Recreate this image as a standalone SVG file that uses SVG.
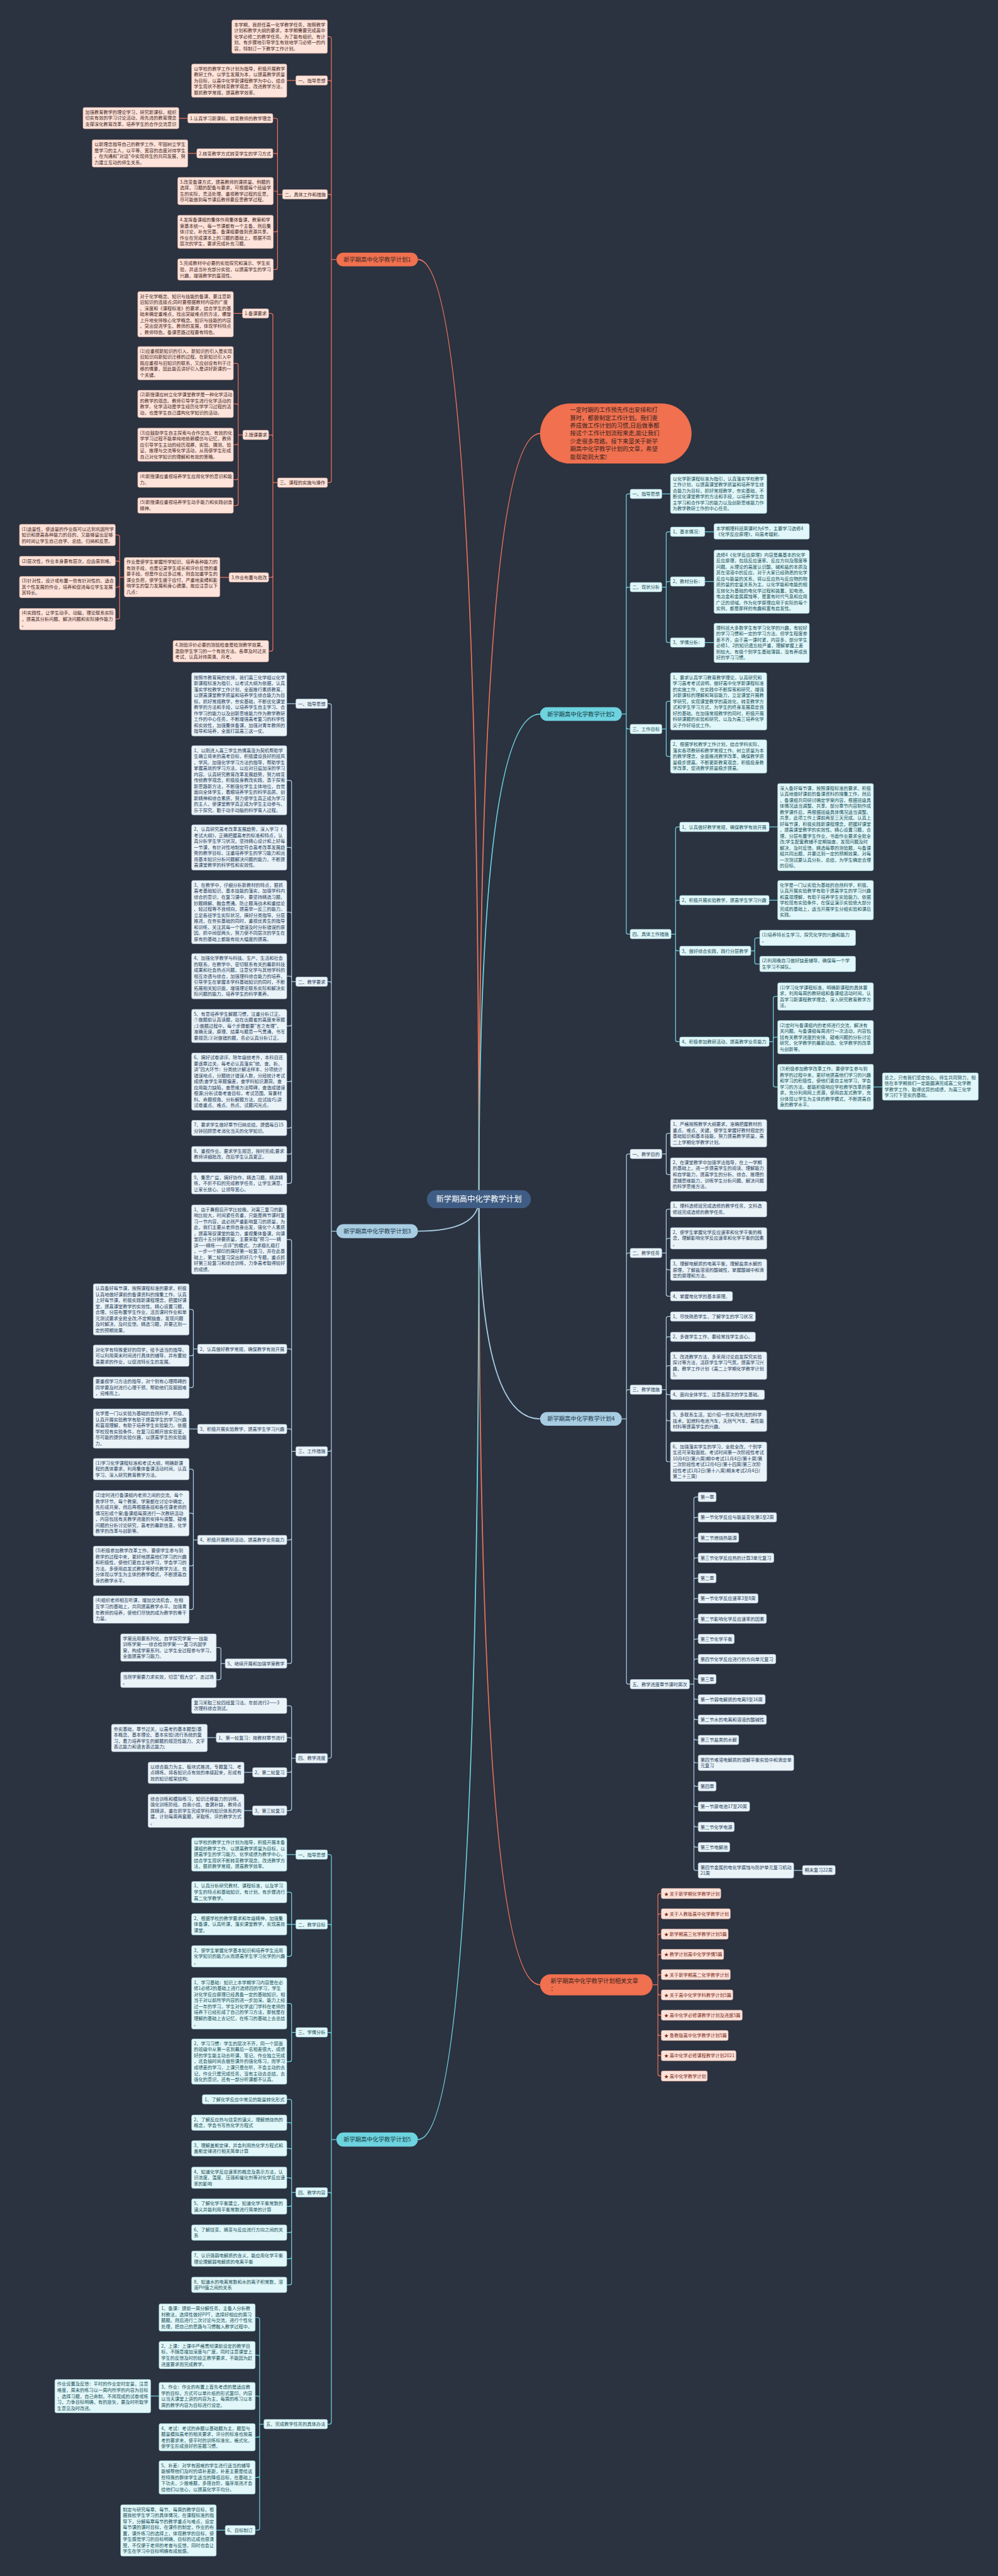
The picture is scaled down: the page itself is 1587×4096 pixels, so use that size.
<svg xmlns="http://www.w3.org/2000/svg" width="1587" height="4096" viewBox="0 0 1587 4096">
<style>
.t{font-family:"Noto Sans CJK SC","Noto Sans",sans-serif;font-size:11.7px}
.tc{fill:#45271d}.tb{fill:#27405a}.ty{fill:#17505a}.tr{fill:#7a2a18}
.rc{fill:#fde3da;stroke:#e9b4a3;stroke-width:1}
.rb{fill:#eaf3f8;stroke:#bcd5e6;stroke-width:1}
.ry{fill:#e2f7f9;stroke:#a9e1e8;stroke-width:1}
.lc{fill:none;stroke:#e9735a;stroke-width:2;stroke-linejoin:round}
.lb{fill:none;stroke:#a8cde2;stroke-width:2;stroke-linejoin:round}
.ly{fill:none;stroke:#6dd3df;stroke-width:2;stroke-linejoin:round}
.mc{fill:none;stroke:#e9735a;stroke-width:3}
.mb{fill:none;stroke:#a8cde2;stroke-width:3}
.my{fill:none;stroke:#6dd3df;stroke-width:3}
.bn{font-family:"Noto Sans CJK SC","Noto Sans",sans-serif;font-size:15px}
</style>
<rect width="1587" height="4096" fill="#2b3240"/>
<g transform="scale(0.6199)">
<g id="connectors">
<path class="mc" d="M1228.5,3076 Q1228.5,665.5 1072,665.5"/>
<path class="mc" d="M1228.5,3076 Q1228.5,1112 1385.4,1112"/>
<path class="mc" d="M1228.5,3076 Q1228.5,5091 1385.4,5091"/>
<path class="my" d="M1228.5,3076 Q1228.5,1831.5 1385.4,1831.5"/>
<path class="my" d="M1228.5,3076 Q1228.5,5488 1072,5488"/>
<path class="mb" d="M1228.5,3076 Q1228.5,3158 1072,3158"/>
<path class="mb" d="M1228.5,3076 Q1228.5,3639.5 1385.4,3639.5"/>
<path class="lc" d="M863,665.5 H850 V99.1 Q850,94.1 845,94.1 H840 M863,665.5 H850 V211.3 Q850,206.3 845,206.3 H840 M863,665.5 H850 V503.5 Q850,498.5 845,498.5 H840 M863,665.5 H850 V1233 Q850,1238 845,1238 H840 M759,206.3 H735.6
M724.7,498.5 H712 V308.4 Q712,303.4 707,303.4 H700 M724.7,498.5 H712 V398.4 Q712,393.4 707,393.4 H700 M724.7,498.5 H712 V495 Q712,490 707,490 H700 M724.7,498.5 H712 V589.7 Q712,594.7 707,594.7 H700 M724.7,498.5 H712 V686.35 Q712,691.35 707,691.35 H700 M481.7,303.4 H458.7 M504.8,393.4 H481.7
M712,1238 H700 V809 Q700,804 695,804 H689 M712,1238 H700 V1120.6 Q700,1115.6 695,1115.6 H689 M712,1238 H700 V1476 Q700,1481 695,1481 H689 M712,1238 H700 V1665.35 Q700,1670.35 695,1670.35 H689 M622,804 H598.6
M623,1115.6 H611 V936.7 Q611,931.7 606,931.7 H598.6 M623,1115.6 H611 V1041 Q611,1036 606,1036 H598.6 M623,1115.6 H611 V1135.7 Q611,1140.7 606,1140.7 H598.6 M623,1115.6 H611 V1225.4 Q611,1230.4 606,1230.4 H598.6 M623,1115.6 H611 V1291.7 Q611,1296.7 606,1296.7 H598.6
M587.7,1481 H564 M318.9,1480.5 H306.8 V1377.35 Q306.8,1372.35 301.8,1372.35 H295.8 M318.9,1480.5 H306.8 V1444 Q306.8,1439 301.8,1439 H295.8 M318.9,1480.5 H306.8 V1501 Q306.8,1506 301.8,1506 H295.8 M318.9,1480.5 H306.8 V1583 Q306.8,1588 301.8,1588 H295.8"/>
<path class="lb" d="M863,3158 H850 V1810 Q850,1805 845,1805 H840 M863,3158 H850 V2523 Q850,2518 845,2518 H840 M863,3158 H850 V3717.7 Q850,3722.7 845,3722.7 H840 M863,3158 H850 V4505 Q850,4510 845,4510 H840 M759,1805 H735.6
M759,2518 H748 V2006.6 Q748,2001.6 743,2001.6 H735.6 M759,2518 H748 V2178.7 Q748,2173.7 743,2173.7 H735.6 M759,2518 H748 V2344.6 Q748,2339.6 743,2339.6 H735.6 M759,2518 H748 V2509 Q748,2504 743,2504 H735.6 M759,2518 H748 V2626.7 Q748,2631.7 743,2631.7 H735.6 M759,2518 H748 V2769.4 Q748,2774.4 743,2774.4 H735.6 M759,2518 H748 V2888.3 Q748,2893.3 743,2893.3 H735.6 M759,2518 H748 V2955.4 Q748,2960.4 743,2960.4 H735.6 M759,2518 H748 V3030.4 Q748,3035.4 743,3035.4 H735.6
M759,3722.7 H748 V3184.5 Q748,3179.5 743,3179.5 H735.6 M759,3722.7 H748 V3465 Q748,3460 743,3460 H735.7 M759,3722.7 H748 V3670.5 Q748,3665.5 743,3665.5 H735.7 M759,3722.7 H748 V3945 Q748,3950 743,3950 H735.7 M759,3722.7 H748 V4262 Q748,4267 743,4267 H735.7
M507,3460 H496 V3363.7 Q496,3358.7 491,3358.7 H485 M507,3460 H496 V3472.4 Q496,3477.4 491,3477.4 H485 M507,3460 H496 V3554.4 Q496,3559.4 491,3559.4 H485 M507,3665.5 H485
M507,3950 H496 V3773.4 Q496,3768.4 491,3768.4 H485 M507,3950 H496 V3886.6 Q496,3881.6 491,3881.6 H485 M507,3950 H496 V4011.4 Q496,4016.4 491,4016.4 H485 M507,3950 H496 V4123.6 Q496,4128.6 491,4128.6 H485
M577.8,4267 H566.8 V4231 Q566.8,4226 561.8,4226 H554.7 M577.8,4267 H566.8 V4303.7 Q566.8,4308.7 561.8,4308.7 H554.7
M759,4510 H748 V4380.4 Q748,4375.4 743,4375.4 H735.6 M759,4510 H748 V4462 Q748,4457 743,4457 H735.7 M759,4510 H748 V4541 Q748,4546 743,4546 H735.7 M759,4510 H748 V4639 Q748,4644 743,4644 H735.7 M554.7,4457 H531.7 M648,4546 H626 M648,4644 H626"/>
<path class="ly" d="M863,5488 H850 V4762 Q850,4757 845,4757 H840 M863,5488 H850 V4941 Q850,4936 845,4936 H840 M863,5488 H850 V5218 Q850,5213 845,5213 H840 M863,5488 H850 V5628.5 Q850,5623.5 845,5623.5 H840 M863,5488 H850 V6213 Q850,6218 845,6218 H840 M759,4757 H735.6
M759,4936 H748 V4858.4 Q748,4853.4 743,4853.4 H735.6 M759,4936 H735.6 M759,4936 H748 V5013 Q748,5018 743,5018 H735.6
M759,5213 H748 V5143.8 Q748,5138.8 743,5138.8 H735.6 M759,5213 H748 V5283 Q748,5288 743,5288 H735.6
M759,5623.5 H748 V5390 Q748,5385 743,5385 H735.7 M759,5623.5 H748 V5449.7 Q748,5444.7 743,5444.7 H735.6 M759,5623.5 H748 V5515.7 Q748,5510.7 743,5510.7 H735.6 M759,5623.5 H748 V5591 Q748,5586 743,5586 H735.6 M759,5623.5 H748 V5654.7 Q748,5659.7 743,5659.7 H735.6 M759,5623.5 H748 V5721.7 Q748,5726.7 743,5726.7 H735.6 M759,5623.5 H748 V5788.7 Q748,5793.7 743,5793.7 H735.6 M759,5623.5 H748 V5855.7 Q748,5860.7 743,5860.7 H735.6
M677,6218 H666 V5949.5 Q666,5944.5 661,5944.5 H654.6 M677,6218 H666 V6046 Q666,6041 661,6041 H654.6 M677,6218 H666 V6151 Q666,6146 661,6146 H654.6 M677,6218 H666 V6246.6 Q666,6251.6 661,6251.6 H654.6 M677,6218 H666 V6349.7 Q666,6354.7 661,6354.7 H654.6 M677,6218 H666 V6485 Q666,6490 661,6490 H654.6 M408,6146 H386.6 M577.8,6490 H554.7"/>
<path class="ly" d="M1595,1831.5 H1606.5 V1272 Q1606.5,1267 1611.5,1267 H1616.6 M1595,1831.5 H1606.5 V1511 Q1606.5,1506 1611.5,1506 H1616.6 M1595,1831.5 H1606.5 V1865 Q1606.5,1870 1611.5,1870 H1616.6 M1595,1831.5 H1606.5 V2391 Q1606.5,2396 1611.5,2396 H1616.6 M1697.7,1267 H1720
M1697.7,1506 H1709 V1369 Q1709,1364 1714,1364 H1720 M1697.7,1506 H1709 V1496.5 Q1709,1491.5 1714,1491.5 H1720 M1697.7,1506 H1709 V1643 Q1709,1648 1714,1648 H1720 M1808,1364 H1831.6 M1808,1491.5 H1831.6 M1808,1648 H1831.6
M1697.7,1870 H1709 V1804 Q1709,1799 1714,1799 H1720 M1697.7,1870 H1709 V1935.3 Q1709,1940.3 1714,1940.3 H1720
M1721.4,2396 H1733 V2126 Q1733,2121 1738,2121 H1743.7 M1721.4,2396 H1733 V2314 Q1733,2309 1738,2309 H1743.7 M1721.4,2396 H1733 V2434 Q1733,2439 1738,2439 H1743.7 M1721.4,2396 H1733 V2667 Q1733,2672 1738,2672 H1743.7 M1973,2121 H1995 M1973,2309 H1995
M1926,2439 H1936 V2410.7 Q1936,2405.7 1941,2405.7 H1949 M1926,2439 H1936 V2467.7 Q1936,2472.7 1941,2472.7 H1949
M1973,2672 H1983.6 V2561 Q1983.6,2556 1988.6,2556 H1995 M1973,2672 H1983.6 V2665.4 Q1983.6,2660.4 1988.6,2660.4 H1995 M1973,2672 H1983.6 V2783 Q1983.6,2788 1988.6,2788 H1995 M2240.5,2788 H2263.6"/>
<path class="lb" d="M1595,3639.5 H1607 V2965 Q1607,2960 1612,2960 H1616.6 M1595,3639.5 H1607 V3219 Q1607,3214 1612,3214 H1616.6 M1595,3639.5 H1607 V3569.5 Q1607,3564.5 1612,3564.5 H1616.6 M1595,3639.5 H1607 V4315 Q1607,4320 1612,4320 H1616.6
M1697.7,2960 H1709 V2912 Q1709,2907 1714,2907 H1720 M1697.7,2960 H1709 V3007.7 Q1709,3012.7 1714,3012.7 H1720
M1697.7,3214 H1709 V3106.7 Q1709,3101.7 1714,3101.7 H1720 M1697.7,3214 H1709 V3181.4 Q1709,3176.4 1714,3176.4 H1720 M1697.7,3214 H1709 V3252 Q1709,3257 1714,3257 H1720 M1697.7,3214 H1709 V3320 Q1709,3325 1714,3325 H1720
M1697.7,3564.5 H1709 V3382 Q1709,3377 1714,3377 H1720 M1697.7,3564.5 H1709 V3434 Q1709,3429 1714,3429 H1720 M1697.7,3564.5 H1709 V3508 Q1709,3503 1714,3503 H1720 M1697.7,3564.5 H1709 V3572.5 Q1709,3577.5 1714,3577.5 H1720 M1697.7,3564.5 H1709 V3639.4 Q1709,3644.4 1714,3644.4 H1720 M1697.7,3564.5 H1709 V3744.4 Q1709,3749.4 1714,3749.4 H1720
M1768.7,4320 H1780 V3845 Q1780,3840 1785,3840 H1791 M1768.7,4320 H1780 V3897 Q1780,3892 1785,3892 H1791 M1768.7,4320 H1780 V3949 Q1780,3944 1785,3944 H1791 M1768.7,4320 H1780 V4001 Q1780,3996 1785,3996 H1791 M1768.7,4320 H1780 V4053 Q1780,4048 1785,4048 H1791 M1768.7,4320 H1780 V4105 Q1780,4100 1785,4100 H1791 M1768.7,4320 H1780 V4157 Q1780,4152 1785,4152 H1791 M1768.7,4320 H1780 V4209 Q1780,4204 1785,4204 H1791 M1768.7,4320 H1780 V4260.5 Q1780,4255.5 1785,4255.5 H1791 M1768.7,4320 H1780 V4302 Q1780,4307 1785,4307 H1791 M1768.7,4320 H1780 V4354 Q1780,4359 1785,4359 H1791 M1768.7,4320 H1780 V4406 Q1780,4411 1785,4411 H1791 M1768.7,4320 H1780 V4458 Q1780,4463 1785,4463 H1791 M1768.7,4320 H1780 V4516.7 Q1780,4521.7 1785,4521.7 H1791 M1768.7,4320 H1780 V4577 Q1780,4582 1785,4582 H1791 M1768.7,4320 H1780 V4629 Q1780,4634 1785,4634 H1791 M1768.7,4320 H1780 V4681 Q1780,4686 1785,4686 H1791 M1768.7,4320 H1780 V4733 Q1780,4738 1785,4738 H1791 M1768.7,4320 H1780 V4792.7 Q1780,4797.7 1785,4797.7 H1791 M2036,4797.7 H2058.7"/>
<path class="lc" d="M1674,5091 H1687.6 V4862 Q1687.6,4857 1692.6,4857 H1696.4 M1674,5091 H1687.6 V4914 Q1687.6,4909 1692.6,4909 H1696.4 M1674,5091 H1687.6 V4966 Q1687.6,4961 1692.6,4961 H1696.4 M1674,5091 H1687.6 V5018 Q1687.6,5013 1692.6,5013 H1696.4 M1674,5091 H1687.6 V5070 Q1687.6,5065 1692.6,5065 H1696.4 M1674,5091 H1687.6 V5112 Q1687.6,5117 1692.6,5117 H1696.4 M1674,5091 H1687.6 V5164 Q1687.6,5169 1692.6,5169 H1696.4 M1674,5091 H1687.6 V5216 Q1687.6,5221 1692.6,5221 H1696.4 M1674,5091 H1687.6 V5268 Q1687.6,5273 1692.6,5273 H1696.4 M1674,5091 H1687.6 V5320 Q1687.6,5325 1692.6,5325 H1696.4"/>
</g>

<g id="center"><rect x="1095" y="3053" width="267" height="46" rx="23" fill="#3f5d84"/><text x="1228.5" y="3083" text-anchor="middle" font-family="Noto Sans CJK SC, Noto Sans, sans-serif" font-size="20" fill="#ffffff">新学期高中化学教学计划</text></g>

<g id="intro"><rect x="1385.4" y="1034.7" width="388.6" height="154.3" rx="77" fill="#f0704f"/><text class="bn" fill="#3a2420" x="1462.5" y="1057"><tspan x="1462.5">一定时期的工作预先作出安排和打</tspan><tspan x="1462.5" dy="20">算时，都要制定工作计划。我们要</tspan><tspan x="1462.5" dy="20">养成做工作计划的习惯,日后做事都</tspan><tspan x="1462.5" dy="20">按这个工作计划流程来走,能让我们</tspan><tspan x="1462.5" dy="20">少走很多弯路。接下来是关于新学</tspan><tspan x="1462.5" dy="20">期高中化学教学计划的文章，希望</tspan><tspan x="1462.5" dy="20">能帮助到大家!</tspan></text></g>

<g id="b1"><rect x="863" y="648" width="209" height="35" rx="17.5" fill="#f0704f"/><text class="bn" x="967.5" y="670.8" text-anchor="middle" fill="#3b2a26">新学期高中化学教学计划1</text></g>
<g id="b1-intro"><rect class="rc" x="594.8" y="51.4" width="245" height="85.4" rx="4"/><text class="t tc" x="600.3" y="67.3"><tspan x="600.3">本学期，我担任高一化学教学任务，按照教学</tspan><tspan x="600.3" dy="15.35">计划和教学大纲的要求，本学期需要完成高中</tspan><tspan x="600.3" dy="15.35">化学必修二的教学任务。为了能有组织、有计</tspan><tspan x="600.3" dy="15.35">划、有步骤地引导学生有效地学习必修一的内</tspan><tspan x="600.3" dy="15.35">容，特制订一下教学工作计划。</tspan></text></g>
<g id="b1-1"><rect class="rc" x="759" y="194.3" width="81" height="24" rx="4"/><text class="t tc" x="764.5" y="210.7">一、指导思想</text></g>
<g id="b1-1a"><rect class="rc" x="491.6" y="164.3" width="244" height="85.4" rx="4"/><text class="t tc" x="497.1" y="180.2"><tspan x="497.1">以学校的教学工作计划为指导，积极开展教学</tspan><tspan x="497.1" dy="15.35">教研工作。以学生发展为本，以提高教学质量</tspan><tspan x="497.1" dy="15.35">为目标，以高中化学新课程教学为中心，结合</tspan><tspan x="497.1" dy="15.35">学生现状不断转变教学观念，改进教学方法，</tspan><tspan x="497.1" dy="15.35">狠抓教学常规，提高教学效率。</tspan></text></g>
<g id="b1-2"><rect class="rc" x="724.7" y="486.5" width="115.3" height="24" rx="4"/><text class="t tc" x="730.2" y="502.9">二、具体工作和措施</text></g>
<g id="b1-2-1"><rect class="rc" x="481.7" y="291.4" width="218.3" height="24" rx="4"/><text class="t tc" x="487.2" y="307.8">1.认真学习新课标，转变教师的教学理念</text></g>
<g id="b1-2-1a"><rect class="rc" x="213" y="275.7" width="245.7" height="54.7" rx="4"/><text class="t tc" x="218.5" y="291.6"><tspan x="218.5">加强教育教学的理论学习，研究新课标，组织</tspan><tspan x="218.5" dy="15.35">切实有效的学习讨论活动，用先进的教育理念</tspan><tspan x="218.5" dy="15.35">支撑深化教育改革，培养学生的合作交流意识</tspan></text></g>
<g id="b1-2-2"><rect class="rc" x="504.8" y="381.4" width="195.2" height="24" rx="4"/><text class="t tc" x="510.3" y="397.8">2.转变教学方式转变学生的学习方式</text></g>
<g id="b1-2-2a"><rect class="rc" x="236.6" y="358.6" width="245.1" height="70" rx="4"/><text class="t tc" x="242.1" y="374.5"><tspan x="242.1">以新理念指导自己的教学工作，牢固树立学生</tspan><tspan x="242.1" dy="15.35">是学习的主人，以平等、宽容的态度对待学生</tspan><tspan x="242.1" dy="15.35">，在沟通和"对话"中实现师生的共同发展，努</tspan><tspan x="242.1" dy="15.35">力建立互动的师生关系。</tspan></text></g>
<g id="b1-2-3"><rect class="rc" x="456" y="455" width="245" height="70" rx="4"/><text class="t tc" x="461.5" y="470.9"><tspan x="461.5">3.改变备课方式，提高教师的课质量、例题的</tspan><tspan x="461.5" dy="15.35">选择，习题的配备与要求，可根据每个班级学</tspan><tspan x="461.5" dy="15.35">生的实际，灵活处理。重视教学过程的反思，</tspan><tspan x="461.5" dy="15.35">尽可能做到每节课后教师要反思教学过程。</tspan></text></g>
<g id="b1-2-4"><rect class="rc" x="456" y="552" width="245" height="85.4" rx="4"/><text class="t tc" x="461.5" y="567.9"><tspan x="461.5">4.发挥备课组的集体作用集体备课，教案和学</tspan><tspan x="461.5" dy="15.35">案基本统一。每一节课都有一个主备，然后集</tspan><tspan x="461.5" dy="15.35">体讨论，补充完善。备课组要做到资源共享。</tspan><tspan x="461.5" dy="15.35">作业在完成课本上的习题的基础上，根据不同</tspan><tspan x="461.5" dy="15.35">层次的学生，要求完成补充习题。</tspan></text></g>
<g id="b1-2-5"><rect class="rc" x="456" y="664" width="245" height="54.7" rx="4"/><text class="t tc" x="461.5" y="679.9"><tspan x="461.5">5.完成教材中必要的实验探究和演示、学生实</tspan><tspan x="461.5" dy="15.35">验，并适当补充部分实验，以提高学生的学习</tspan><tspan x="461.5" dy="15.35">兴趣，增强教学的直观性。</tspan></text></g>
<g id="b1-3"><rect class="rc" x="712" y="1226" width="128" height="24" rx="4"/><text class="t tc" x="717.5" y="1242.4">三、课程的实施与操作</text></g>
<g id="b1-3-1"><rect class="rc" x="622" y="792" width="67" height="24" rx="4"/><text class="t tc" x="627.5" y="808.4">1.备课要求</text></g>
<g id="b1-3-1a"><rect class="rc" x="353.4" y="748" width="245.2" height="116.1" rx="4"/><text class="t tc" x="358.9" y="763.9"><tspan x="358.9">对于化学概念、知识与技能的备课，要注意新</tspan><tspan x="358.9" dy="15.35">旧知识的连接点;同时要根据教材内容的广度</tspan><tspan x="358.9" dy="15.35">、深度和《课程标准》的要求，结合学生的基</tspan><tspan x="358.9" dy="15.35">础来确定重难点，找出突破难点的方法，螺旋</tspan><tspan x="358.9" dy="15.35">上升地安排核心化学概念、知识与技能的内容</tspan><tspan x="358.9" dy="15.35">。突出促进学生、教师的发展，体现学科特点</tspan><tspan x="358.9" dy="15.35">、教师特色，备课思路过程要有特色。</tspan></text></g>
<g id="b1-3-2"><rect class="rc" x="623" y="1103.6" width="66" height="24" rx="4"/><text class="t tc" x="628.5" y="1120">2.授课要求</text></g>
<g id="b1-3-2a"><rect class="rc" x="353.4" y="889" width="245.2" height="85.4" rx="4"/><text class="t tc" x="358.9" y="904.9"><tspan x="358.9">(1)应重视新知识的引入，新知识的引入是实现</tspan><tspan x="358.9" dy="15.35">旧知识向新知识迁移的过程。在新知识引入中</tspan><tspan x="358.9" dy="15.35">既应重视与旧知识的联系，又应创设有利于迁</tspan><tspan x="358.9" dy="15.35">移的情景，因此能否讲好引入是讲好新课的一</tspan><tspan x="358.9" dy="15.35">个关键。</tspan></text></g>
<g id="b1-3-2b"><rect class="rc" x="353.4" y="1001" width="245.2" height="70" rx="4"/><text class="t tc" x="358.9" y="1016.9"><tspan x="358.9">(2)新授课应树立化学课堂教学是一种化学活动</tspan><tspan x="358.9" dy="15.35">的教学的观念。教师引导学生进行化学活动的</tspan><tspan x="358.9" dy="15.35">教学。化学活动是学生经历化学学习过程的活</tspan><tspan x="358.9" dy="15.35">动，也是学生自己建构化学知识的活动。</tspan></text></g>
<g id="b1-3-2c"><rect class="rc" x="353.4" y="1098" width="245.2" height="85.4" rx="4"/><text class="t tc" x="358.9" y="1113.9"><tspan x="358.9">(3)应鼓励学生自主探索与合作交流。有效的化</tspan><tspan x="358.9" dy="15.35">学学习过程不能单纯地依赖模仿与记忆，教师</tspan><tspan x="358.9" dy="15.35">应引导学生主动的经历观察、实验、猜测、验</tspan><tspan x="358.9" dy="15.35">证、推理与交流等化学活动，从而使学生形成</tspan><tspan x="358.9" dy="15.35">自己对化学知识的理解和有效的策略。</tspan></text></g>
<g id="b1-3-2d"><rect class="rc" x="353.4" y="1210.7" width="245.2" height="39.4" rx="4"/><text class="t tc" x="358.9" y="1226.6"><tspan x="358.9">(4)新授课应重视培养学生应用化学的意识和能</tspan><tspan x="358.9" dy="15.35">力。</tspan></text></g>
<g id="b1-3-2e"><rect class="rc" x="353.4" y="1277" width="245.2" height="39.4" rx="4"/><text class="t tc" x="358.9" y="1292.9"><tspan x="358.9">(5)新授课应重视培养学生动手能力和实践创造</tspan><tspan x="358.9" dy="15.35">精神。</tspan></text></g>
<g id="b1-3-3"><rect class="rc" x="587.7" y="1469" width="101.3" height="24" rx="4"/><text class="t tc" x="593.2" y="1485.4">3.作业布置与批改</text></g>
<g id="b1-3-3a"><rect class="rc" x="318.9" y="1430" width="245.1" height="100.8" rx="4"/><text class="t tc" x="324.4" y="1445.9"><tspan x="324.4">作业是使学生掌握所学知识、培养各种能力的</tspan><tspan x="324.4" dy="15.35">有效手段，也是记录学生成长和评价反馈的重</tspan><tspan x="324.4" dy="15.35">要手段。但是作业过多过难，则会加重学生的</tspan><tspan x="324.4" dy="15.35">课业负担，使学生疲于应付，严重地束缚和影</tspan><tspan x="324.4" dy="15.35">响学生的智力发展和身心健康。故应注意以下</tspan><tspan x="324.4" dy="15.35">几点：</tspan></text></g>
<g id="b1-3-3a1"><rect class="rc" x="50" y="1345" width="245.8" height="54.7" rx="4"/><text class="t tc" x="55.5" y="1360.9"><tspan x="55.5">(1)适量性，使适量的作业既可以达到巩固所学</tspan><tspan x="55.5" dy="15.35">知识和提高各种能力的目的，又能够留出足够</tspan><tspan x="55.5" dy="15.35">的时间让学生自己自学、总结、归纳和反思。</tspan></text></g>
<g id="b1-3-3a2"><rect class="rc" x="50" y="1427" width="245.8" height="24" rx="4"/><text class="t tc" x="55.5" y="1443.4">(2)层次性，作业本身要有层次，应由易到难。</text></g>
<g id="b1-3-3a3"><rect class="rc" x="50" y="1478.6" width="245.8" height="54.7" rx="4"/><text class="t tc" x="55.5" y="1494.5"><tspan x="55.5">(3)针对性，设计或布置一些有针对性的、适合</tspan><tspan x="55.5" dy="15.35">其个性发展的作业，培养和促进每位学生发展</tspan><tspan x="55.5" dy="15.35">其特长。</tspan></text></g>
<g id="b1-3-3a4"><rect class="rc" x="50" y="1560.7" width="245.8" height="54.7" rx="4"/><text class="t tc" x="55.5" y="1576.6"><tspan x="55.5">(4)实践性，让学生动手、动脑，理论联系实际</tspan><tspan x="55.5" dy="15.35">，提高其分析问题、解决问题和实际操作能力</tspan><tspan x="55.5" dy="15.35">。</tspan></text></g>
<g id="b1-3-4"><rect class="rc" x="443.9" y="1643" width="245.1" height="54.7" rx="4"/><text class="t tc" x="449.4" y="1658.9"><tspan x="449.4">4.测验评价必要的测验检查是检测教学效果、</tspan><tspan x="449.4" dy="15.35">激励学生学习的一个有效方法。各章及时过关</tspan><tspan x="449.4" dy="15.35">考试，认真对待周清、月考。</tspan></text></g>

<g id="b3"><rect x="863" y="3140" width="209" height="36" rx="18" fill="#a8cde2"/><text class="bn" x="967.5" y="3163.3" text-anchor="middle" fill="#22384c">新学期高中化学教学计划3</text></g>
<g id="b3-1"><rect class="rb" x="759" y="1793" width="81" height="24" rx="4"/><text class="t tb" x="764.5" y="1809.4">一、指导思想</text></g>
<g id="b3-1a"><rect class="rb" x="491.6" y="1725.7" width="244" height="162.2" rx="4"/><text class="t tb" x="497.1" y="1741.6"><tspan x="497.1">按照市教育局的安排，我们高三化学组以化学</tspan><tspan x="497.1" dy="15.35">新课程标准为指引，以考试大纲为依据，认真</tspan><tspan x="497.1" dy="15.35">落实学校教学工作计划，全面推行素质教育，</tspan><tspan x="497.1" dy="15.35">以提高课堂教学质量和培养学生综合能力为目</tspan><tspan x="497.1" dy="15.35">标，抓好常规教学，夯实基础，不断优化课堂</tspan><tspan x="497.1" dy="15.35">教学的方法和手段，以培养学生自主学习、合</tspan><tspan x="497.1" dy="15.35">作学习的能力以及创新思维能力作为教学教研</tspan><tspan x="497.1" dy="15.35">工作的中心任务，不断增强高考复习的科学性</tspan><tspan x="497.1" dy="15.35">和实效性，加强集体备课，加强对青年教师的</tspan><tspan x="497.1" dy="15.35">指导和培养，全面打赢高三这一仗。</tspan></text></g>
<g id="b3-2"><rect class="rb" x="759" y="2506" width="81" height="24" rx="4"/><text class="t tb" x="764.5" y="2522.4">二、教学要求</text></g>
<g id="b3-2-1"><rect class="rb" x="491.6" y="1912.9" width="244" height="177.5" rx="4"/><text class="t tb" x="497.1" y="1928.8"><tspan x="497.1">1、以刚进入高三学生热情高涨为契机帮助学</tspan><tspan x="497.1" dy="15.35">生确立将来的高考目标，积极建设良好的班风</tspan><tspan x="497.1" dy="15.35">、学风。加强化学学习方法的指导，帮助学生</tspan><tspan x="497.1" dy="15.35">掌握高效的学习方法，以应对日益加深的学习</tspan><tspan x="497.1" dy="15.35">内容。认真研究教育改革发展趋势，努力转变</tspan><tspan x="497.1" dy="15.35">传统教学观念，积极投身教改实践，勇于探索</tspan><tspan x="497.1" dy="15.35">新思路新方法，不断强化学生主体地位，自觉</tspan><tspan x="497.1" dy="15.35">面向全体学生，着眼培养学生的科学品质、创</tspan><tspan x="497.1" dy="15.35">新精神和综合素质，努力使学生真正成为学习</tspan><tspan x="497.1" dy="15.35">的主人，使课堂教学真正成为学生主动参与、</tspan><tspan x="497.1" dy="15.35">乐于探究、勤于动手动脑的科学育人过程。</tspan></text></g>
<g id="b3-2-2"><rect class="rb" x="491.6" y="2115.7" width="244" height="116.1" rx="4"/><text class="t tb" x="497.1" y="2131.6"><tspan x="497.1">2、认真研究高考改革发展趋势，深入学习《</tspan><tspan x="497.1" dy="15.35">考试大纲》，正确把握高考的标准和特点，认</tspan><tspan x="497.1" dy="15.35">真分析学生学习状况，坚持精心设计和上好每</tspan><tspan x="497.1" dy="15.35">一节课，有针对性地制定符合高考改革发展趋</tspan><tspan x="497.1" dy="15.35">势的教学目标，注重培养学生的学习能力和运</tspan><tspan x="497.1" dy="15.35">用基本知识分析问题解决问题的能力，不断提</tspan><tspan x="497.1" dy="15.35">高课堂教学的科学性和实效性。</tspan></text></g>
<g id="b3-2-3"><rect class="rb" x="491.6" y="2258.6" width="244" height="162.2" rx="4"/><text class="t tb" x="497.1" y="2274.5"><tspan x="497.1">3、在教学中，仔细分析新教材的特点，狠抓</tspan><tspan x="497.1" dy="15.35">高考基础知识、基本技能的落实，加强学科内</tspan><tspan x="497.1" dy="15.35">综合的意识，在复习课中，要坚持精选习题，</tspan><tspan x="497.1" dy="15.35">妙题精解、融会贯通。防止题海战术和重结论</tspan><tspan x="497.1" dy="15.35">、轻过程等不良倾向，提高举一反三的能力。</tspan><tspan x="497.1" dy="15.35">立足各班学生实际状况，搞好分类指导、分层</tspan><tspan x="497.1" dy="15.35">推进，在夯实基础的同时，重视优秀生的指导</tspan><tspan x="497.1" dy="15.35">和训练，关注其每一个错误及时分析错误的原</tspan><tspan x="497.1" dy="15.35">因。抓中间促两头，努力使不同层次的学生在</tspan><tspan x="497.1" dy="15.35">原有的基础上都能有较大幅度的提高。</tspan></text></g>
<g id="b3-2-4"><rect class="rb" x="491.6" y="2446" width="244" height="116.1" rx="4"/><text class="t tb" x="497.1" y="2461.9"><tspan x="497.1">4、加强化学教学与科技、生产、生活和社会</tspan><tspan x="497.1" dy="15.35">的联系。在教学中，密切联系有关的最新科技</tspan><tspan x="497.1" dy="15.35">成果和社会热点问题，注意化学与其他学科的</tspan><tspan x="497.1" dy="15.35">相互渗透与综合，加强理科综合能力的培养，</tspan><tspan x="497.1" dy="15.35">引导学生在掌握本学科基础知识的同时，不断</tspan><tspan x="497.1" dy="15.35">拓展相关知识面，增强理论联系实际和解决实</tspan><tspan x="497.1" dy="15.35">际问题的能力，培养学生的科学素养。</tspan></text></g>
<g id="b3-2-5"><rect class="rb" x="491.6" y="2589" width="244" height="85.4" rx="4"/><text class="t tb" x="497.1" y="2604.9"><tspan x="497.1">5、有意培养学生解题习惯，注重分析订正。</tspan><tspan x="497.1" dy="15.35">①做题前认真读题，站在出题者的高度来审题</tspan><tspan x="497.1" dy="15.35">;②做题过程中，每个步骤都要"言之有理"、</tspan><tspan x="497.1" dy="15.35">准确无误，原理、结果与题意一气贯通，书写</tspan><tspan x="497.1" dy="15.35">要规范;③对做错的题，务必认真分析订正。</tspan></text></g>
<g id="b3-2-6"><rect class="rb" x="491.6" y="2701" width="244" height="146.8" rx="4"/><text class="t tb" x="497.1" y="2716.9"><tspan x="497.1">6、搞好试卷讲评。除年级统考外，本科目还</tspan><tspan x="497.1" dy="15.35">要逐章过关。每考必认真落实"统、查、析、</tspan><tspan x="497.1" dy="15.35">讲"四大环节：分类统计解法样本，分项统计</tspan><tspan x="497.1" dy="15.35">错误地点，分题统计错误人数，分段统计考试</tspan><tspan x="497.1" dy="15.35">成绩;查学生审题偏差，查学科知识漏洞，查</tspan><tspan x="497.1" dy="15.35">应用能力缺陷，查思维方法障碍，查造成错误</tspan><tspan x="497.1" dy="15.35">根源;分析试卷考查目标，考试范围、背景材</tspan><tspan x="497.1" dy="15.35">料、命题视角、分析解题方法、应试技巧;讲</tspan><tspan x="497.1" dy="15.35">试卷重点、难点、热点、试题闪光点。</tspan></text></g>
<g id="b3-2-7"><rect class="rb" x="491.6" y="2873.6" width="244" height="39.4" rx="4"/><text class="t tb" x="497.1" y="2889.5"><tspan x="497.1">7、要求学生做好章节归纳总结，提倡每日15</tspan><tspan x="497.1" dy="15.35">分钟回顾思考消化当天的化学知识。</tspan></text></g>
<g id="b3-2-8"><rect class="rb" x="491.6" y="2940.7" width="244" height="39.4" rx="4"/><text class="t tb" x="497.1" y="2956.6"><tspan x="497.1">8、重视作业。要求学生规范，按时完成;要求</tspan><tspan x="497.1" dy="15.35">教师详细批改，改后学生认真更正。</tspan></text></g>
<g id="b3-2-9"><rect class="rb" x="491.6" y="3008" width="244" height="54.7" rx="4"/><text class="t tb" x="497.1" y="3023.9"><tspan x="497.1">9、集思广益，搞好协作，精选习题，精讲精</tspan><tspan x="497.1" dy="15.35">练，不折不扣的完成教学任务，让学生满意、</tspan><tspan x="497.1" dy="15.35">让家长放心、让领导宽心。</tspan></text></g>
<g id="b3-3"><rect class="rb" x="759" y="3710.7" width="81" height="24" rx="4"/><text class="t tb" x="764.5" y="3727.1">三、工作措施</text></g>
<g id="b3-3-1"><rect class="rb" x="491.6" y="3090.7" width="244" height="177.5" rx="4"/><text class="t tb" x="497.1" y="3106.6"><tspan x="497.1">1、由于暑假后开学比较晚，对高三复习的影</tspan><tspan x="497.1" dy="15.35">响比较大，时间紧任务重，只能是两节课时复</tspan><tspan x="497.1" dy="15.35">习一节内容，这必然严重影响复习的质量，为</tspan><tspan x="497.1" dy="15.35">此，我们主要从老师自身出发，强化个人素质</tspan><tspan x="497.1" dy="15.35">，提高驾驭课堂的能力，重视集体备课，向课</tspan><tspan x="497.1" dy="15.35">堂四十五分钟要质量，主要采取"预习——精</tspan><tspan x="497.1" dy="15.35">讲——精练——点评"的模式，力求稳扎稳打</tspan><tspan x="497.1" dy="15.35">，一步一个脚印的搞好第一轮复习，并在此基</tspan><tspan x="497.1" dy="15.35">础上，第二轮复习突出抓好几个专题，重点抓</tspan><tspan x="497.1" dy="15.35">好第三轮复习和综合训练，力争高考取得较好</tspan><tspan x="497.1" dy="15.35">的成绩。</tspan></text></g>
<g id="b3-3-2"><rect class="rb" x="507" y="3448" width="228.7" height="24" rx="4"/><text class="t tb" x="512.5" y="3464.4">2、认真做好教学常规，确保教学有效开展</text></g>
<g id="b3-3-2a"><rect class="rb" x="239.4" y="3293" width="245.6" height="131.5" rx="4"/><text class="t tb" x="244.9" y="3308.9"><tspan x="244.9">认真备好每节课，按照课程标准的要求，积极</tspan><tspan x="244.9" dy="15.35">认真地做好课前的备课资料的搜集工作。认真</tspan><tspan x="244.9" dy="15.35">上好每节课，积极实践新课程理念，把握好课</tspan><tspan x="244.9" dy="15.35">堂，提高课堂教学的实效性。精心设置习题，</tspan><tspan x="244.9" dy="15.35">合理、分层布置学生作业，活页课时作业和单</tspan><tspan x="244.9" dy="15.35">元测试要求全批全改;不定期抽查，发现问题</tspan><tspan x="244.9" dy="15.35">及时解决、及时反馈。精选习题，并要达到一</tspan><tspan x="244.9" dy="15.35">定的预期效果。</tspan></text></g>
<g id="b3-3-2b"><rect class="rb" x="239.4" y="3450" width="245.6" height="54.7" rx="4"/><text class="t tb" x="244.9" y="3465.9"><tspan x="244.9">对化学有特殊爱好的同学，给予适当的指导。</tspan><tspan x="244.9" dy="15.35">可以利用周末时间进行具体的辅导，并布置较</tspan><tspan x="244.9" dy="15.35">高要求的作业，以促进特长生的发展。</tspan></text></g>
<g id="b3-3-2c"><rect class="rb" x="239.4" y="3532" width="245.6" height="54.7" rx="4"/><text class="t tb" x="244.9" y="3547.9"><tspan x="244.9">要重视学习方法的指导，对个别有心理障碍的</tspan><tspan x="244.9" dy="15.35">同学要及时进行心理干预，帮助他们克服困难</tspan><tspan x="244.9" dy="15.35">，迎难而上。</tspan></text></g>
<g id="b3-3-3"><rect class="rb" x="507" y="3653.5" width="228.7" height="24" rx="4"/><text class="t tb" x="512.5" y="3669.9">3、积极开展实验教学，提高学生学习兴趣</text></g>
<g id="b3-3-3a"><rect class="rb" x="239.4" y="3614" width="245.6" height="100.8" rx="4"/><text class="t tb" x="244.9" y="3629.9"><tspan x="244.9">化学是一门以实验为基础的自然科学，积极、</tspan><tspan x="244.9" dy="15.35">认真开展实验教学有助于提高学生的学习兴趣</tspan><tspan x="244.9" dy="15.35">和直观理解，有助于培养学生实验能力。依据</tspan><tspan x="244.9" dy="15.35">学校现有实验条件，在复习后期开放实验室，</tspan><tspan x="244.9" dy="15.35">尽可能的提供实验仪器，以提高学生的实验能</tspan><tspan x="244.9" dy="15.35">力。</tspan></text></g>
<g id="b3-3-4"><rect class="rb" x="507" y="3938" width="228.7" height="24" rx="4"/><text class="t tb" x="512.5" y="3954.4">4、积极开展教研活动，提高教学业务能力</text></g>
<g id="b3-3-4a"><rect class="rb" x="239.4" y="3741" width="245.6" height="54.7" rx="4"/><text class="t tb" x="244.9" y="3756.9"><tspan x="244.9">(1)学习化学课程标准和考试大纲，明确新课</tspan><tspan x="244.9" dy="15.35">程的具体要求，利用集体备课活动时间，认真</tspan><tspan x="244.9" dy="15.35">学习、深入研究教育教学方法。</tspan></text></g>
<g id="b3-3-4b"><rect class="rb" x="239.4" y="3823.6" width="245.6" height="116.1" rx="4"/><text class="t tb" x="244.9" y="3839.5"><tspan x="244.9">(2)定时进行备课组内老师之间的交流。每个</tspan><tspan x="244.9" dy="15.35">教学环节、每个教案、学案都在讨论中确定，</tspan><tspan x="244.9" dy="15.35">先形成共案，然后再根据各班和各任课老师的</tspan><tspan x="244.9" dy="15.35">情况形成个案;备课组每周进行一次教研活动</tspan><tspan x="244.9" dy="15.35">，内容包括有关教学进度的安排与调整、疑难</tspan><tspan x="244.9" dy="15.35">问题的分析讨论研究，高考的最新信息，化学</tspan><tspan x="244.9" dy="15.35">教学的改革与创新等。</tspan></text></g>
<g id="b3-3-4c"><rect class="rb" x="239.4" y="3966" width="245.6" height="100.8" rx="4"/><text class="t tb" x="244.9" y="3981.9"><tspan x="244.9">(3)积极参加教学改革工作。要使学生参与到</tspan><tspan x="244.9" dy="15.35">教学的过程中来，更好地提高他们学习的兴趣</tspan><tspan x="244.9" dy="15.35">和积极性，使他们更自主地学习，学会学习的</tspan><tspan x="244.9" dy="15.35">方法。多使用启发式教学等好的教学方法，充</tspan><tspan x="244.9" dy="15.35">分体现以学生为主体的教学模式，不断提高自</tspan><tspan x="244.9" dy="15.35">身的教学水平。</tspan></text></g>
<g id="b3-3-4d"><rect class="rb" x="239.4" y="4093.6" width="245.6" height="70" rx="4"/><text class="t tb" x="244.9" y="4109.5"><tspan x="244.9">(4)组织老师相互听课，增加交流机会，在相</tspan><tspan x="244.9" dy="15.35">互学习的基础上，共同提高教学水平。加强青</tspan><tspan x="244.9" dy="15.35">年教师的培养，使他们尽快的成为教学的骨干</tspan><tspan x="244.9" dy="15.35">力量。</tspan></text></g>
<g id="b3-3-5"><rect class="rb" x="577.8" y="4255" width="157.9" height="24" rx="4"/><text class="t tb" x="583.3" y="4271.4">5、继续开展和加强学案教学</text></g>
<g id="b3-3-5a"><rect class="rb" x="309.6" y="4191" width="245.1" height="70" rx="4"/><text class="t tb" x="315.1" y="4206.9"><tspan x="315.1">学案运用要系列化。自学探究学案——技能</tspan><tspan x="315.1" dy="15.35">训练学案——综合检测学案——复习巩固学</tspan><tspan x="315.1" dy="15.35">案，构成学案系列。让学生全过程参与学习，</tspan><tspan x="315.1" dy="15.35">全面提高学习能力。</tspan></text></g>
<g id="b3-3-5b"><rect class="rb" x="309.6" y="4289" width="245.1" height="39.4" rx="4"/><text class="t tb" x="315.1" y="4304.9"><tspan x="315.1">当然学案要力求实效，切忌"假大空"、走过场</tspan><tspan x="315.1" dy="15.35">。</tspan></text></g>
<g id="b3-4"><rect class="rb" x="759" y="4498" width="81" height="24" rx="4"/><text class="t tb" x="764.5" y="4514.4">四、教学进度</text></g>
<g id="b3-4-0"><rect class="rb" x="491.6" y="4355.7" width="244" height="39.4" rx="4"/><text class="t tb" x="497.1" y="4371.6"><tspan x="497.1">复习采取三轮四段复习法。年前进行2——3</tspan><tspan x="497.1" dy="15.35">次理科综合测试。</tspan></text></g>
<g id="b3-4-1"><rect class="rb" x="554.7" y="4445" width="181" height="24" rx="4"/><text class="t tb" x="560.2" y="4461.4">1、第一轮复习：按教材章节进行</text></g>
<g id="b3-4-1a"><rect class="rb" x="286" y="4423" width="245.7" height="70" rx="4"/><text class="t tb" x="291.5" y="4438.9"><tspan x="291.5">夯实基础，章节过关，以高考的基本题型(基</tspan><tspan x="291.5" dy="15.35">本概念、基本理论、基本实验)进行系统的复</tspan><tspan x="291.5" dy="15.35">习，着力培养学生的解题的规范性能力、文字</tspan><tspan x="291.5" dy="15.35">表达能力和语言表达能力;</tspan></text></g>
<g id="b3-4-2"><rect class="rb" x="648" y="4534" width="87.7" height="24" rx="4"/><text class="t tb" x="653.5" y="4550.4">2、第二轮复习</text></g>
<g id="b3-4-2a"><rect class="rb" x="380" y="4520" width="246" height="54.7" rx="4"/><text class="t tb" x="385.5" y="4535.9"><tspan x="385.5">以综合能力为主、板块式推进，专题复习、考</tspan><tspan x="385.5" dy="15.35">点精练。将各知识点有效的串接起来，形成有</tspan><tspan x="385.5" dy="15.35">效的知识框架结构;</tspan></text></g>
<g id="b3-4-3"><rect class="rb" x="648" y="4632" width="87.7" height="24" rx="4"/><text class="t tb" x="653.5" y="4648.4">3、第三轮复习</text></g>
<g id="b3-4-3a"><rect class="rb" x="380" y="4602" width="246" height="85.4" rx="4"/><text class="t tb" x="385.5" y="4617.9"><tspan x="385.5">综合训练和模拟练习，知识迁移能力的训练。</tspan><tspan x="385.5" dy="15.35">强化训练阶段。自我小结、查漏补缺，教师点</tspan><tspan x="385.5" dy="15.35">拨精讲，重在抓学生完成学科内知识体系的构</tspan><tspan x="385.5" dy="15.35">建，计划每周两套题，采取练、评的教学方式</tspan><tspan x="385.5" dy="15.35">。</tspan></text></g>

<g id="b5"><rect x="863" y="5470" width="209" height="36" rx="18" fill="#6dd3df"/><text class="bn" x="967.5" y="5493.3" text-anchor="middle" fill="#173c44">新学期高中化学教学计划5</text></g>
<g id="b5-1"><rect class="ry" x="759" y="4745" width="81" height="24" rx="4"/><text class="t ty" x="764.5" y="4761.4">一、指导思想</text></g>
<g id="b5-1a"><rect class="ry" x="491.6" y="4714" width="244" height="85.4" rx="4"/><text class="t ty" x="497.1" y="4729.9"><tspan x="497.1">以学校的教学工作计划为指导，积极开展本备</tspan><tspan x="497.1" dy="15.35">课组的教学工作。以提高教学质量为目标，以</tspan><tspan x="497.1" dy="15.35">提高学生的学习能力、化学成绩为教学中心，</tspan><tspan x="497.1" dy="15.35">结合学生现状不断转变教学观念，改进教学方</tspan><tspan x="497.1" dy="15.35">法，狠抓教学常规，提高教学效率。</tspan></text></g>
<g id="b5-2"><rect class="ry" x="759" y="4924" width="81" height="24" rx="4"/><text class="t ty" x="764.5" y="4940.4">二、教学目标</text></g>
<g id="b5-2-1"><rect class="ry" x="491.6" y="4826" width="244" height="54.7" rx="4"/><text class="t ty" x="497.1" y="4841.9"><tspan x="497.1">1、认真分析研究教材、课程标准，以及学习</tspan><tspan x="497.1" dy="15.35">学生的特点和基础知识，有计划，有步骤进行</tspan><tspan x="497.1" dy="15.35">高二化学教学。</tspan></text></g>
<g id="b5-2-2"><rect class="ry" x="491.6" y="4908.6" width="244" height="54.7" rx="4"/><text class="t ty" x="497.1" y="4924.5"><tspan x="497.1">2、根据学校的教学要求和年级精神，加强集</tspan><tspan x="497.1" dy="15.35">体备课，认真听课，落实课堂教学，实现高效</tspan><tspan x="497.1" dy="15.35">课堂。</tspan></text></g>
<g id="b5-2-3"><rect class="ry" x="491.6" y="4990.7" width="244" height="54.7" rx="4"/><text class="t ty" x="497.1" y="5006.6"><tspan x="497.1">3、使学生掌握化学基本知识和培养学生运用</tspan><tspan x="497.1" dy="15.35">化学知识的能力从而提高学生学习化学的兴趣</tspan><tspan x="497.1" dy="15.35">。</tspan></text></g>
<g id="b5-3"><rect class="ry" x="759" y="5201" width="81" height="24" rx="4"/><text class="t ty" x="764.5" y="5217.4">三、学情分析</text></g>
<g id="b5-3-1"><rect class="ry" x="491.6" y="5073" width="244" height="131.5" rx="4"/><text class="t ty" x="497.1" y="5088.9"><tspan x="497.1">1、学习基础：知识上本学期学习内容是在必</tspan><tspan x="497.1" dy="15.35">修1必修2的基础上进行选修四的学习，学生</tspan><tspan x="497.1" dy="15.35">对化学反应原理已经具备一定的基础知识，相</tspan><tspan x="497.1" dy="15.35">当于对以前所学内容的进一步加深。能力上经</tspan><tspan x="497.1" dy="15.35">过一年的学习，学生对化学这门学科在老师的</tspan><tspan x="497.1" dy="15.35">培养下已经形成了自己的学习方法，那就是在</tspan><tspan x="497.1" dy="15.35">理解的基础上去记忆，在练习的基础上去总结</tspan><tspan x="497.1" dy="15.35">。</tspan></text></g>
<g id="b5-3-2"><rect class="ry" x="491.6" y="5230" width="244" height="116.1" rx="4"/><text class="t ty" x="497.1" y="5245.9"><tspan x="497.1">2、学习习惯：学生的层次不齐，同一个层面</tspan><tspan x="497.1" dy="15.35">的班级中从第一名到最后一名相差很大，成绩</tspan><tspan x="497.1" dy="15.35">好的学生能主动去听课、笔记、作业独立完成</tspan><tspan x="497.1" dy="15.35">，还会抽时间去做些课外的强化练习，而学习</tspan><tspan x="497.1" dy="15.35">成绩差的学习，上课只是在听，不会主动的去</tspan><tspan x="497.1" dy="15.35">记，作业只是完成任务，没有主动去总结，去</tspan><tspan x="497.1" dy="15.35">强化的意识，还有一部分听课都不认真。</tspan></text></g>
<g id="b5-4"><rect class="ry" x="759" y="5611.5" width="81" height="24" rx="4"/><text class="t ty" x="764.5" y="5627.9">四、教学内容</text></g>
<g id="b5-4-1"><rect class="ry" x="519" y="5373" width="216.7" height="24" rx="4"/><text class="t ty" x="524.5" y="5389.4">1、了解化学反应中常见的能量转化形式</text></g>
<g id="b5-4-2"><rect class="ry" x="491.6" y="5425" width="244" height="39.4" rx="4"/><text class="t ty" x="497.1" y="5440.9"><tspan x="497.1">2、了解反应热与焓变的涵义，理解燃烧热的</tspan><tspan x="497.1" dy="15.35">概念，学会书写热化学方程式</tspan></text></g>
<g id="b5-4-3"><rect class="ry" x="491.6" y="5491" width="244" height="39.4" rx="4"/><text class="t ty" x="497.1" y="5506.9"><tspan x="497.1">3、理解盖斯定律，并会利用热化学方程式和</tspan><tspan x="497.1" dy="15.35">盖斯定律进行相关简单计算</tspan></text></g>
<g id="b5-4-4"><rect class="ry" x="491.6" y="5558.6" width="244" height="54.7" rx="4"/><text class="t ty" x="497.1" y="5574.5"><tspan x="497.1">4、知道化学反应速率的概念及表示方法，认</tspan><tspan x="497.1" dy="15.35">识浓度、温度、压强和催化剂等对化学反应速</tspan><tspan x="497.1" dy="15.35">率的影响</tspan></text></g>
<g id="b5-4-5"><rect class="ry" x="491.6" y="5640" width="244" height="39.4" rx="4"/><text class="t ty" x="497.1" y="5655.9"><tspan x="497.1">5、了解化学平衡建立，知道化学平衡常数的</tspan><tspan x="497.1" dy="15.35">涵义并能利用平衡常数进行简单的计算</tspan></text></g>
<g id="b5-4-6"><rect class="ry" x="491.6" y="5707" width="244" height="39.4" rx="4"/><text class="t ty" x="497.1" y="5722.9"><tspan x="497.1">6、了解焓变、熵变与反应进行方向之间的关</tspan><tspan x="497.1" dy="15.35">系</tspan></text></g>
<g id="b5-4-7"><rect class="ry" x="491.6" y="5774" width="244" height="39.4" rx="4"/><text class="t ty" x="497.1" y="5789.9"><tspan x="497.1">7、认识强弱电解质的含义，能应用化学平衡</tspan><tspan x="497.1" dy="15.35">理论理解弱电解质的电离平衡</tspan></text></g>
<g id="b5-4-8"><rect class="ry" x="491.6" y="5841" width="244" height="39.4" rx="4"/><text class="t ty" x="497.1" y="5856.9"><tspan x="497.1">8、知道水的电离常数和水的离子积常数，溶</tspan><tspan x="497.1" dy="15.35">液PH值之间的关系</tspan></text></g>
<g id="b5-5"><rect class="ry" x="677" y="6206" width="163" height="24" rx="4"/><text class="t ty" x="682.5" y="6222.4">五、完成教学任务的具体办法</text></g>
<g id="b5-5-1"><rect class="ry" x="408" y="5909.5" width="246.6" height="70" rx="4"/><text class="t ty" x="413.5" y="5925.4"><tspan x="413.5">1、备课：提前一周分解任务，主备人分析教</tspan><tspan x="413.5" dy="15.35">材教法，选择性做好PPT，选择好相应的周习</tspan><tspan x="413.5" dy="15.35">题题。然后进行二次讨论与交流，进行个性化</tspan><tspan x="413.5" dy="15.35">处理，把自己的思路与习惯融入教学过程中。</tspan></text></g>
<g id="b5-5-2"><rect class="ry" x="408" y="6006" width="246.6" height="70" rx="4"/><text class="t ty" x="413.5" y="6021.9"><tspan x="413.5">2、上课：上课中严格贯彻课前设定的教学目</tspan><tspan x="413.5" dy="15.35">标，不随意增加深度与广度，同时注意课堂上</tspan><tspan x="413.5" dy="15.35">学生的反馈及时的较正教学要求，不能因为赶</tspan><tspan x="413.5" dy="15.35">进度要求而完成教学。</tspan></text></g>
<g id="b5-5-3"><rect class="ry" x="408" y="6111" width="246.6" height="70" rx="4"/><text class="t ty" x="413.5" y="6126.9"><tspan x="413.5">3、作业：作业的布置上首先考虑的是适应教</tspan><tspan x="413.5" dy="15.35">学的目标，方式可以单片纸的形式复印，内容</tspan><tspan x="413.5" dy="15.35">以当天课堂上讲的内容为主，每周的练习以本</tspan><tspan x="413.5" dy="15.35">周的教学内容为目标进行设定。</tspan></text></g>
<g id="b5-5-3a"><rect class="ry" x="140.7" y="6103.6" width="245.9" height="85.4" rx="4"/><text class="t ty" x="146.2" y="6119.5"><tspan x="146.2">作业设置及反馈：平时的作业定时定量，注意</tspan><tspan x="146.2" dy="15.35">难度，周末的练习以一周内所学的内容为目标</tspan><tspan x="146.2" dy="15.35">，选择习题，自己命制，不用现成的试卷或练</tspan><tspan x="146.2" dy="15.35">习，力争目标明确，有的放矢，要及时听取学</tspan><tspan x="146.2" dy="15.35">生意见及时改进。</tspan></text></g>
<g id="b5-5-4"><rect class="ry" x="408" y="6216.6" width="246.6" height="70" rx="4"/><text class="t ty" x="413.5" y="6232.5"><tspan x="413.5">4、考试：考试的命题以基础题为主，题型与</tspan><tspan x="413.5" dy="15.35">题量模拟高考的相关要求，评分的标准也按高</tspan><tspan x="413.5" dy="15.35">考的要求来，使平时的训练标准化，格式化，</tspan><tspan x="413.5" dy="15.35">使学生形成良好的答题习惯。</tspan></text></g>
<g id="b5-5-5"><rect class="ry" x="408" y="6312" width="246.6" height="85.4" rx="4"/><text class="t ty" x="413.5" y="6327.9"><tspan x="413.5">5、补差：对学有困难的学生进行适当的辅导</tspan><tspan x="413.5" dy="15.35">能够帮他们及时的填补差距，补差主要是给这</tspan><tspan x="413.5" dy="15.35">些特殊的群体学生适当的降低目标，在基础上</tspan><tspan x="413.5" dy="15.35">下功夫，少做难题，多搭台阶，循序渐进才会</tspan><tspan x="413.5" dy="15.35">给他们以信心，以提高化学平均分。</tspan></text></g>
<g id="b5-5-6"><rect class="ry" x="577.8" y="6478" width="76.8" height="24" rx="4"/><text class="t ty" x="583.3" y="6494.4">6、目标制订</text></g>
<g id="b5-5-6a"><rect class="ry" x="309.6" y="6425" width="245.1" height="131.5" rx="4"/><text class="t ty" x="315.1" y="6440.9"><tspan x="315.1">制定与研究每章、每节、每周的教学目标，根</tspan><tspan x="315.1" dy="15.35">据我校学生学习的具体情况，在课程标准的指</tspan><tspan x="315.1" dy="15.35">导下，分解每章每节的教学重点与难点，设定</tspan><tspan x="315.1" dy="15.35">每节课的课时目标，在课件的制定，作业的布</tspan><tspan x="315.1" dy="15.35">置，课外练习的选择上，体现教学的目标，使</tspan><tspan x="315.1" dy="15.35">学生感觉学习的目标明确，目标的达成也很清</tspan><tspan x="315.1" dy="15.35">楚，不仅便于老师的考查与反馈，同时也会让</tspan><tspan x="315.1" dy="15.35">学生在学习中目标明确有成就感。</tspan></text></g>

<g id="b2"><rect x="1385.4" y="1814" width="209.6" height="35" rx="17.5" fill="#6dd3df"/><text class="bn" x="1490.2" y="1836.8" text-anchor="middle" fill="#173c44">新学期高中化学教学计划2</text></g>
<g id="b2-1"><rect class="ry" x="1616.6" y="1255" width="81" height="24" rx="4"/><text class="t ty" x="1622.1" y="1271.4">一、指导思想</text></g>
<g id="b2-1a"><rect class="ry" x="1720" y="1216" width="246.8" height="100.8" rx="4"/><text class="t ty" x="1725.5" y="1231.9"><tspan x="1725.5">以化学新课程标准为指引，认真落实学校教学</tspan><tspan x="1725.5" dy="15.35">工作计划，以提高课堂教学质量和培养学生综</tspan><tspan x="1725.5" dy="15.35">合能力为目标，抓好常规教学，夯实基础，不</tspan><tspan x="1725.5" dy="15.35">断优化课堂教学的方法和手段，以培养学生自</tspan><tspan x="1725.5" dy="15.35">主学习和合作学习的能力以及创新思维能力作</tspan><tspan x="1725.5" dy="15.35">为教学教研工作的中心任务。</tspan></text></g>
<g id="b2-2"><rect class="ry" x="1616.6" y="1494" width="81" height="24" rx="4"/><text class="t ty" x="1622.1" y="1510.4">二、现状分析</text></g>
<g id="b2-2-1"><rect class="ry" x="1720" y="1352" width="88" height="24" rx="4"/><text class="t ty" x="1725.5" y="1368.4">1、基本情况：</text></g>
<g id="b2-2-1a"><rect class="ry" x="1831.6" y="1343.4" width="244.4" height="39.4" rx="4"/><text class="t ty" x="1837.1" y="1359.3"><tspan x="1837.1">本学期理科班周课时为6节，主要学习选修4</tspan><tspan x="1837.1" dy="15.35">《化学反应原理》，向高考辐射。</tspan></text></g>
<g id="b2-2-2"><rect class="ry" x="1720" y="1479.5" width="88" height="24" rx="4"/><text class="t ty" x="1725.5" y="1495.9">2、教材分析：</text></g>
<g id="b2-2-2a"><rect class="ry" x="1831.6" y="1411" width="244.4" height="162.2" rx="4"/><text class="t ty" x="1837.1" y="1426.9"><tspan x="1837.1">选修4《化学反应原理》内容是最基本的化学</tspan><tspan x="1837.1" dy="15.35">反应原理，包括反应速率、反应方向及限度等</tspan><tspan x="1837.1" dy="15.35">问题。从理论的高度认识酸、碱和盐的本质及</tspan><tspan x="1837.1" dy="15.35">其在溶液中的反应。对于大家已经熟悉的化学</tspan><tspan x="1837.1" dy="15.35">反应与能量的关系，将以反应热与反应物的物</tspan><tspan x="1837.1" dy="15.35">质的量的定量关系为主。以化学能和电能的相</tspan><tspan x="1837.1" dy="15.35">互转化为基础的电化学过程和装置，如电池、</tspan><tspan x="1837.1" dy="15.35">电冶金和金属腐蚀等，是富有时代气息和应用</tspan><tspan x="1837.1" dy="15.35">广泛的领域。作为化学原理应用于实际的每个</tspan><tspan x="1837.1" dy="15.35">实例，都是那样的有趣和富有启发性。</tspan></text></g>
<g id="b2-2-3"><rect class="ry" x="1720" y="1636" width="88" height="24" rx="4"/><text class="t ty" x="1725.5" y="1652.4">3、学情分析：</text></g>
<g id="b2-2-3a"><rect class="ry" x="1831.6" y="1598.7" width="244.4" height="100.8" rx="4"/><text class="t ty" x="1837.1" y="1614.6"><tspan x="1837.1">理科班大多数学生有学习化学的兴趣，有较好</tspan><tspan x="1837.1" dy="15.35">的学习习惯和一定的学习方法。但学生程度参</tspan><tspan x="1837.1" dy="15.35">差不齐，由于高一课时紧，内容多，部分学生</tspan><tspan x="1837.1" dy="15.35">必修1、2的知识遗忘较严重，理解掌握上差</tspan><tspan x="1837.1" dy="15.35">别较大。有极个别学生基础薄弱，没有养成良</tspan><tspan x="1837.1" dy="15.35">好的学习习惯。</tspan></text></g>
<g id="b2-3"><rect class="ry" x="1616.6" y="1858" width="81" height="24" rx="4"/><text class="t ty" x="1622.1" y="1874.4">三、工作目标</text></g>
<g id="b2-3-1"><rect class="ry" x="1720" y="1725.7" width="246.8" height="146.8" rx="4"/><text class="t ty" x="1725.5" y="1741.6"><tspan x="1725.5">1、要求认真学习教育教学理论，认真研究和</tspan><tspan x="1725.5" dy="15.35">学习高考考试说明，做好高中化学新课程标准</tspan><tspan x="1725.5" dy="15.35">的实施工作，在实践中不断探索和研究，增强</tspan><tspan x="1725.5" dy="15.35">对新课标的理解和驾驭能力，立足课堂开展教</tspan><tspan x="1725.5" dy="15.35">学研究，实现课堂教学的高效化，转变教学方</tspan><tspan x="1725.5" dy="15.35">式和学生学习方式，为学生的终身发展奠定良</tspan><tspan x="1725.5" dy="15.35">好的基础。在加强常规教学的同时，积极开展</tspan><tspan x="1725.5" dy="15.35">科研课题的实验和研究，以及为高三培养化学</tspan><tspan x="1725.5" dy="15.35">尖子作好培优工作。</tspan></text></g>
<g id="b2-3-2"><rect class="ry" x="1720" y="1897.6" width="246.8" height="85.4" rx="4"/><text class="t ty" x="1725.5" y="1913.5"><tspan x="1725.5">2、根据学校教学工作计划，结合学科实际，</tspan><tspan x="1725.5" dy="15.35">落实各项教研和教学常规工作。树立质量为本</tspan><tspan x="1725.5" dy="15.35">的教学理念，全面推进教学改革，确保教学质</tspan><tspan x="1725.5" dy="15.35">量稳步提高。不断更新教育观念，积极投身教</tspan><tspan x="1725.5" dy="15.35">学改革，促进教学质量稳步提高。</tspan></text></g>
<g id="b2-4"><rect class="ry" x="1616.6" y="2384" width="104.8" height="24" rx="4"/><text class="t ty" x="1622.1" y="2400.4">四、具体工作措施</text></g>
<g id="b2-4-1"><rect class="ry" x="1743.7" y="2109" width="229.2" height="24" rx="4"/><text class="t ty" x="1749.2" y="2125.4">1、认真做好教学常规，确保教学有效开展</text></g>
<g id="b2-4-1a"><rect class="ry" x="1995" y="2009.8" width="245.5" height="223.6" rx="4"/><text class="t ty" x="2000.5" y="2025.7"><tspan x="2000.5">深入备好每节课，按照课程标准的要求，积极</tspan><tspan x="2000.5" dy="15.35">认真地做好课前的备课资料的搜集工作。然后</tspan><tspan x="2000.5" dy="15.35">，备课组共同研讨确定学案内容，根据班级具</tspan><tspan x="2000.5" dy="15.35">体情况适当调整、共享。部分章节内容制作成</tspan><tspan x="2000.5" dy="15.35">教学课件后，再根据班级具体情况适当调整、</tspan><tspan x="2000.5" dy="15.35">共享。此项工作上课前两至三天完成。认真上</tspan><tspan x="2000.5" dy="15.35">好每节课，积极实践新课程理念，把握好课堂</tspan><tspan x="2000.5" dy="15.35">，提高课堂教学的实效性。精心设置习题，合</tspan><tspan x="2000.5" dy="15.35">理、分层布置学生作业，书面作业要求全批全</tspan><tspan x="2000.5" dy="15.35">改;学生配套教辅不定期抽查，发现问题及时</tspan><tspan x="2000.5" dy="15.35">解决，及时反馈。精选每章的测验题，与备课</tspan><tspan x="2000.5" dy="15.35">组共同出题，并要达到一定的预期效果。对每</tspan><tspan x="2000.5" dy="15.35">一次测试要认真分析，总结，为学生确定合理</tspan><tspan x="2000.5" dy="15.35">的目标。</tspan></text></g>
<g id="b2-4-2"><rect class="ry" x="1743.7" y="2297" width="229.2" height="24" rx="4"/><text class="t ty" x="1749.2" y="2313.4">2、积极开展实验教学，提高学生学习兴趣</text></g>
<g id="b2-4-2a"><rect class="ry" x="1995" y="2258.5" width="245.5" height="100.8" rx="4"/><text class="t ty" x="2000.5" y="2274.4"><tspan x="2000.5">化学是一门以实验为基础的自然科学，积极、</tspan><tspan x="2000.5" dy="15.35">认真开展实验教学有助于提高学生的学习兴趣</tspan><tspan x="2000.5" dy="15.35">和直观理解，有助于培养学生实验能力。依据</tspan><tspan x="2000.5" dy="15.35">学校现有实验条件，在保证演示实验绝大部分</tspan><tspan x="2000.5" dy="15.35">完成的基础上，适当开展学生分组实验和课后</tspan><tspan x="2000.5" dy="15.35">实践。</tspan></text></g>
<g id="b2-4-3"><rect class="ry" x="1743.7" y="2427" width="182.3" height="24" rx="4"/><text class="t ty" x="1749.2" y="2443.4">3、做好综合实践，践行分层教学</text></g>
<g id="b2-4-3a"><rect class="ry" x="1949" y="2386" width="245.6" height="39.4" rx="4"/><text class="t ty" x="1954.5" y="2401.9"><tspan x="1954.5">(1)培养特长生学习、探究化学的兴趣和能力</tspan><tspan x="1954.5" dy="15.35">。</tspan></text></g>
<g id="b2-4-3b"><rect class="ry" x="1949" y="2453" width="245.6" height="39.4" rx="4"/><text class="t ty" x="1954.5" y="2468.9"><tspan x="1954.5">(2)利用晚自习做好缺差辅导，确保每一个学</tspan><tspan x="1954.5" dy="15.35">生学习不掉队。</tspan></text></g>
<g id="b2-4-4"><rect class="ry" x="1743.7" y="2660" width="229.2" height="24" rx="4"/><text class="t ty" x="1749.2" y="2676.4">4、积极参加教研活动，提高教学业务能力</text></g>
<g id="b2-4-4a"><rect class="ry" x="1995" y="2521" width="245.5" height="70" rx="4"/><text class="t ty" x="2000.5" y="2536.9"><tspan x="2000.5">(1)学习化学课程标准，明确新课程的具体要</tspan><tspan x="2000.5" dy="15.35">求，利用每周的教研组和备课组活动时间，认</tspan><tspan x="2000.5" dy="15.35">真学习新课程教学理念，深入研究教育教学方</tspan><tspan x="2000.5" dy="15.35">法。</tspan></text></g>
<g id="b2-4-4b"><rect class="ry" x="1995" y="2617.7" width="245.5" height="85.4" rx="4"/><text class="t ty" x="2000.5" y="2633.6"><tspan x="2000.5">(2)定时与备课组内的老师进行交流，解决有</tspan><tspan x="2000.5" dy="15.35">关问题。与备课组每周进行一次活动，内容包</tspan><tspan x="2000.5" dy="15.35">括有关教学进度的安排、疑难问题的分析讨论</tspan><tspan x="2000.5" dy="15.35">研究，化学教学的最新动态、化学教学的改革</tspan><tspan x="2000.5" dy="15.35">与创新等。</tspan></text></g>
<g id="b2-4-4c"><rect class="ry" x="1995" y="2730" width="245.5" height="116.1" rx="4"/><text class="t ty" x="2000.5" y="2745.9"><tspan x="2000.5">(3)积极参加教学改革工作。要使学生参与到</tspan><tspan x="2000.5" dy="15.35">教学的过程中来，更好地提高他们学习的兴趣</tspan><tspan x="2000.5" dy="15.35">和学习的积极性，使他们更自主地学习，学会</tspan><tspan x="2000.5" dy="15.35">学习的方法。都能积极响应学校教学改革的要</tspan><tspan x="2000.5" dy="15.35">求，充分利用网上资源，使用启发式教学，充</tspan><tspan x="2000.5" dy="15.35">分体现以学生为主体的教学模式，不断提高自</tspan><tspan x="2000.5" dy="15.35">身的教学水平。</tspan></text></g>
<g id="b2-4-4c1"><rect class="ry" x="2263.6" y="2752" width="246" height="70" rx="4"/><text class="t ty" x="2269.1" y="2767.9"><tspan x="2269.1">总之，只有我们坚定信心，师生共同努力，相</tspan><tspan x="2269.1" dy="15.35">信在本学期我们一定能圆满完成高二化学教</tspan><tspan x="2269.1" dy="15.35">学教学工作，取得优异的成绩，为高三化学</tspan><tspan x="2269.1" dy="15.35">学习打下坚实的基础。</tspan></text></g>

<g id="b4"><rect x="1385.4" y="3622" width="209.6" height="35" rx="17.5" fill="#a8cde2"/><text class="bn" x="1490.2" y="3644.8" text-anchor="middle" fill="#22384c">新学期高中化学教学计划4</text></g>
<g id="b4-1"><rect class="rb" x="1616.6" y="2948" width="81" height="24" rx="4"/><text class="t tb" x="1622.1" y="2964.4">一、教学目的</text></g>
<g id="b4-1-1"><rect class="rb" x="1720" y="2872" width="246.8" height="70" rx="4"/><text class="t tb" x="1725.5" y="2887.9"><tspan x="1725.5">1、严格按照教学大纲要求，准确把握教材的</tspan><tspan x="1725.5" dy="15.35">重点、难点、关键，使学生掌握好教材规定的</tspan><tspan x="1725.5" dy="15.35">基础知识和基本技能，努力提高教学质量，高</tspan><tspan x="1725.5" dy="15.35">二上学期化学教学计划。</tspan></text></g>
<g id="b4-1-2"><rect class="rb" x="1720" y="2970" width="246.8" height="85.4" rx="4"/><text class="t tb" x="1725.5" y="2985.9"><tspan x="1725.5">2、在课堂教学中加强学法指导，在上一学期</tspan><tspan x="1725.5" dy="15.35">的基础上，进一步提高学生的阅读、理解能力</tspan><tspan x="1725.5" dy="15.35">和自学能力，提高学生的分析、综合、推理的</tspan><tspan x="1725.5" dy="15.35">逻辑思维能力，训练学生分析问题、解决问题</tspan><tspan x="1725.5" dy="15.35">的科学思维方法。</tspan></text></g>
<g id="b4-2"><rect class="rb" x="1616.6" y="3202" width="81" height="24" rx="4"/><text class="t tb" x="1622.1" y="3218.4">二、教学任务</text></g>
<g id="b4-2-1"><rect class="rb" x="1720" y="3082" width="246.8" height="39.4" rx="4"/><text class="t tb" x="1725.5" y="3097.9"><tspan x="1725.5">1、理科选修班完成选修的教学任务，文科选</tspan><tspan x="1725.5" dy="15.35">修班完成选修的教学任务。</tspan></text></g>
<g id="b4-2-2"><rect class="rb" x="1720" y="3149" width="246.8" height="54.7" rx="4"/><text class="t tb" x="1725.5" y="3164.9"><tspan x="1725.5">2、使学生掌握化学反应速率和化学平衡的概</tspan><tspan x="1725.5" dy="15.35">念，理解影响化学反应速率和化学平衡的因素</tspan><tspan x="1725.5" dy="15.35">。</tspan></text></g>
<g id="b4-2-3"><rect class="rb" x="1720" y="3229.8" width="246.8" height="54.7" rx="4"/><text class="t tb" x="1725.5" y="3245.7"><tspan x="1725.5">3、理解电解质的电离平衡，理解盐类水解的</tspan><tspan x="1725.5" dy="15.35">原理，了解盐溶液的酸碱性，掌握酸碱中和滴</tspan><tspan x="1725.5" dy="15.35">定的原理和方法。</tspan></text></g>
<g id="b4-2-4"><rect class="rb" x="1720" y="3313" width="159" height="24" rx="4"/><text class="t tb" x="1725.5" y="3329.4">4、掌握电化学的基本原理。</text></g>
<g id="b4-3"><rect class="rb" x="1616.6" y="3552.5" width="81" height="24" rx="4"/><text class="t tb" x="1622.1" y="3568.9">三、教学措施</text></g>
<g id="b4-3-1"><rect class="rb" x="1720" y="3365" width="217.7" height="24" rx="4"/><text class="t tb" x="1725.5" y="3381.4">1、尽快熟悉学生，了解学生的学习状况</text></g>
<g id="b4-3-2"><rect class="rb" x="1720" y="3417" width="217.7" height="24" rx="4"/><text class="t tb" x="1725.5" y="3433.4">2、多做学生工作，要经常找学生谈心。</text></g>
<g id="b4-3-3"><rect class="rb" x="1720" y="3468" width="246.8" height="70" rx="4"/><text class="t tb" x="1725.5" y="3483.9"><tspan x="1725.5">3、改进教学方法，多采用讨论启发探究实验</tspan><tspan x="1725.5" dy="15.35">探讨等方法，活跃学生学习气氛，提高学习兴</tspan><tspan x="1725.5" dy="15.35">趣，教学工作计划《高二上学期化学教学计划</tspan><tspan x="1725.5" dy="15.35">》。</tspan></text></g>
<g id="b4-3-4"><rect class="rb" x="1720" y="3565.5" width="241" height="24" rx="4"/><text class="t tb" x="1725.5" y="3581.9">4、面向全体学生，注意各层次的学生基础。</text></g>
<g id="b4-3-5"><rect class="rb" x="1720" y="3617" width="246.8" height="54.7" rx="4"/><text class="t tb" x="1725.5" y="3632.9"><tspan x="1725.5">5、多联系生活，如介绍一些实用先进的科学</tspan><tspan x="1725.5" dy="15.35">技术，如燃料电池汽车，天然气汽车，高性能</tspan><tspan x="1725.5" dy="15.35">材料等提高学生的兴趣。</tspan></text></g>
<g id="b4-3-6"><rect class="rb" x="1720" y="3699" width="246.8" height="100.8" rx="4"/><text class="t tb" x="1725.5" y="3714.9"><tspan x="1725.5">6、加强落实学生的学习，全批全改，个别学</tspan><tspan x="1725.5" dy="15.35">生还可采取面批。考试时间第一次阶段性考试</tspan><tspan x="1725.5" dy="15.35">10月4日(第六周)期中考试11月4日(第十周)第</tspan><tspan x="1725.5" dy="15.35">二次阶段性考试12月4日(第十四周)第三次阶</tspan><tspan x="1725.5" dy="15.35">段性考试1月2日(第十八周)期末考试2月4日(</tspan><tspan x="1725.5" dy="15.35">第二十三周)</tspan></text></g>
<g id="b4-5"><rect class="rb" x="1616.6" y="4308" width="152.1" height="24" rx="4"/><text class="t tb" x="1622.1" y="4324.4">五、教学进度章节课时周次</text></g>
<g id="b4-5-01"><rect class="rb" x="1791" y="3828" width="46" height="24" rx="4"/><text class="t tb" x="1796.5" y="3844.4">第一章</text></g>
<g id="b4-5-02"><rect class="rb" x="1791" y="3880" width="201" height="24" rx="4"/><text class="t tb" x="1796.5" y="3896.4">第一节化学反应与能量变化第1至2周</text></g>
<g id="b4-5-03"><rect class="rb" x="1791" y="3932" width="104" height="24" rx="4"/><text class="t tb" x="1796.5" y="3948.4">第二节燃烧热能源</text></g>
<g id="b4-5-04"><rect class="rb" x="1791" y="3984" width="194" height="24" rx="4"/><text class="t tb" x="1796.5" y="4000.4">第三节化学反应热的计算3单元复习</text></g>
<g id="b4-5-05"><rect class="rb" x="1791" y="4036" width="46" height="24" rx="4"/><text class="t tb" x="1796.5" y="4052.4">第二章</text></g>
<g id="b4-5-06"><rect class="rb" x="1791" y="4088" width="153.5" height="24" rx="4"/><text class="t tb" x="1796.5" y="4104.4">第一节化学反应速率3至8周</text></g>
<g id="b4-5-07"><rect class="rb" x="1791" y="4140" width="175" height="24" rx="4"/><text class="t tb" x="1796.5" y="4156.4">第二节影响化学反应速率的因素</text></g>
<g id="b4-5-08"><rect class="rb" x="1791" y="4192" width="92.6" height="24" rx="4"/><text class="t tb" x="1796.5" y="4208.4">第三节化学平衡</text></g>
<g id="b4-5-09"><rect class="rb" x="1791" y="4243.5" width="199" height="24" rx="4"/><text class="t tb" x="1796.5" y="4259.9">第四节化学反应进行的方向单元复习</text></g>
<g id="b4-5-10"><rect class="rb" x="1791" y="4295" width="46" height="24" rx="4"/><text class="t tb" x="1796.5" y="4311.4">第三章</text></g>
<g id="b4-5-11"><rect class="rb" x="1791" y="4347" width="172" height="24" rx="4"/><text class="t tb" x="1796.5" y="4363.4">第一节弱电解质的电离9至16周</text></g>
<g id="b4-5-12"><rect class="rb" x="1791" y="4399" width="175" height="24" rx="4"/><text class="t tb" x="1796.5" y="4415.4">第二节水的电离和溶液的酸碱性</text></g>
<g id="b4-5-13"><rect class="rb" x="1791" y="4451" width="104" height="24" rx="4"/><text class="t tb" x="1796.5" y="4467.4">第三节盐类的水解</text></g>
<g id="b4-5-14"><rect class="rb" x="1791" y="4502" width="245" height="39.4" rx="4"/><text class="t tb" x="1796.5" y="4517.9"><tspan x="1796.5">第四节难溶电解质的溶解平衡实验中和滴定单</tspan><tspan x="1796.5" dy="15.35">元复习</tspan></text></g>
<g id="b4-5-15"><rect class="rb" x="1791" y="4570" width="46" height="24" rx="4"/><text class="t tb" x="1796.5" y="4586.4">第四章</text></g>
<g id="b4-5-16"><rect class="rb" x="1791" y="4622" width="132" height="24" rx="4"/><text class="t tb" x="1796.5" y="4638.4">第一节原电池17至20周</text></g>
<g id="b4-5-17"><rect class="rb" x="1791" y="4674" width="92.6" height="24" rx="4"/><text class="t tb" x="1796.5" y="4690.4">第二节化学电源</text></g>
<g id="b4-5-18"><rect class="rb" x="1791" y="4726" width="81" height="24" rx="4"/><text class="t tb" x="1796.5" y="4742.4">第三节电解池</text></g>
<g id="b4-5-19"><rect class="rb" x="1791" y="4778" width="245" height="39.4" rx="4"/><text class="t tb" x="1796.5" y="4793.9"><tspan x="1796.5">第四节金属的电化学腐蚀与防护单元复习机动</tspan><tspan x="1796.5" dy="15.35">21周</tspan></text></g>
<g id="b4-5-19a"><rect class="rb" x="2058.7" y="4785" width="83.8" height="24" rx="4"/><text class="t tb" x="2064.2" y="4801.4">期末复习22周</text></g>

<g id="rel"><rect x="1385.4" y="5064" width="288.6" height="54" rx="27" fill="#f0704f"/><text class="bn" fill="#3a2420" x="1412.5" y="5087"><tspan x="1412.5">新学期高中化学教学计划相关文章</tspan><tspan x="1412.5" dy="19">：</tspan></text></g>
<g id="rel-1"><rect class="rc" x="1696.4" y="4844" width="152.6" height="26" rx="4"/><text class="t tr" x="1703.4" y="4861.4">★ 关于新学期化学教学计划</text></g>
<g id="rel-2"><rect class="rc" x="1696.4" y="4896" width="177" height="26" rx="4"/><text class="t tr" x="1703.4" y="4913.4">★ 关于人教版高中化学教学计划</text></g>
<g id="rel-3"><rect class="rc" x="1696.4" y="4948" width="171.6" height="26" rx="4"/><text class="t tr" x="1703.4" y="4965.4">★ 新学期高三化学教学计划5篇</text></g>
<g id="rel-4"><rect class="rc" x="1696.4" y="5000" width="160" height="26" rx="4"/><text class="t tr" x="1703.4" y="5017.4">★ 教学计划高中化学学情5篇</text></g>
<g id="rel-5"><rect class="rc" x="1696.4" y="5052" width="177" height="26" rx="4"/><text class="t tr" x="1703.4" y="5069.4">★ 关于新学期高二化学教学计划</text></g>
<g id="rel-6"><rect class="rc" x="1696.4" y="5104" width="183.5" height="26" rx="4"/><text class="t tr" x="1703.4" y="5121.4">★ 关于高中化学学科教学计划5篇</text></g>
<g id="rel-7"><rect class="rc" x="1696.4" y="5156" width="207.6" height="26" rx="4"/><text class="t tr" x="1703.4" y="5173.4">★ 高中化学必修课教学计划及进度5篇</text></g>
<g id="rel-8"><rect class="rc" x="1696.4" y="5208" width="171.6" height="26" rx="4"/><text class="t tr" x="1703.4" y="5225.4">★ 鲁教版高中化学教学计划5篇</text></g>
<g id="rel-9"><rect class="rc" x="1696.4" y="5260" width="191.6" height="26" rx="4"/><text class="t tr" x="1703.4" y="5277.4">★ 高中化学必修课程教学计划2021</text></g>
<g id="rel-10"><rect class="rc" x="1696.4" y="5312" width="118" height="26" rx="4"/><text class="t tr" x="1703.4" y="5329.4">★ 高中化学教学计划</text></g>
</g>
</svg>
